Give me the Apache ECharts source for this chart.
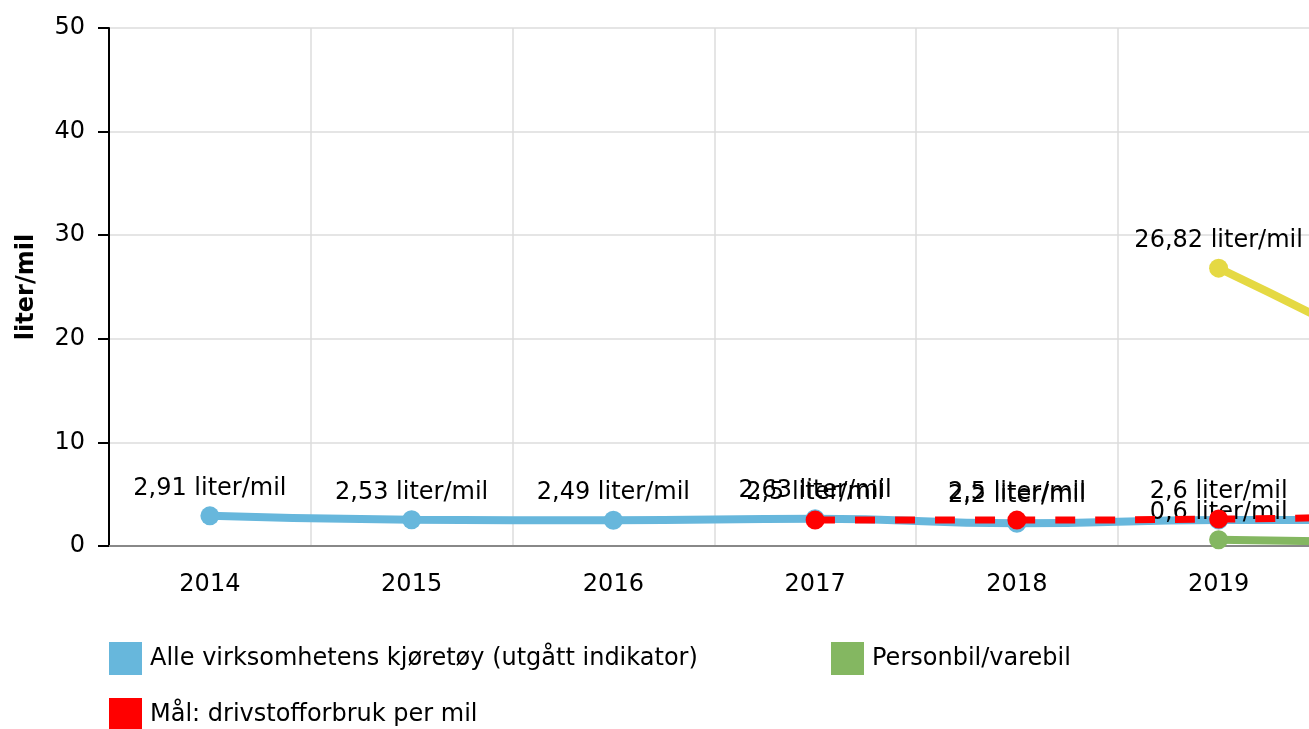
<!DOCTYPE html>
<html>
<head>
<meta charset="utf-8">
<script src="https://cdn.jsdelivr.net/npm/echarts@6/dist/echarts.min.js"></script>
<style>
html,body{margin:0;padding:0;background:#fff;overflow:hidden;}
#wrap{width:1309px;height:729px;overflow:hidden;position:relative;}
#c{width:2000px;height:729px;position:absolute;left:0;top:0;}
</style>
</head>
<body>
<div id="wrap"><div id="c"></div></div>
<script>
var categories = ['2014','2015','2016','2017','2018','2019','2020','2021'];
var seriesNames = ['Alle virksomhetens kjøretøy (utgått indikator)','Personbil/varebil','Lastebil','Mål: drivstofforbruk per mil'];
var allVehicles = [2.91, 2.53, 2.49, 2.63, 2.2, 2.5, 2.5, 2.5];
var carVan = [null, null, null, null, null, 0.6, 0.4, 0.4];
var truck = [null, null, null, null, null, 26.82, 17, 6];
var target = [null, null, null, 2.5, 2.5, 2.6, 2.8, 2.8];
var hideLabelAll = [5];
var yTicks = {min: 0, max: 50, interval: 10};

var FONT = 'DejaVu Sans';
function fmt(v){ return String(v).replace('.', ',') + ' liter/mil'; }
function mk(arr, hide){
  return arr.map(function(v,i){
    if (v === null) return null;
    if (hide && hide.indexOf(i) >= 0) return {value: v, label: {show: false}};
    return v;
  });
}
var lbl = {show: true, position: 'top', distance: 6, color: '#000', fontSize: 24, fontFamily: FONT,
  formatter: function(p){ return fmt(p.value); }};

var chart = echarts.init(document.getElementById('c'));
chart.setOption({
  animation: false,
  textStyle: {fontFamily: FONT},
  grid: {left: 109, top: 28, height: 518, width: 1614},
  xAxis: {
    type: 'category', data: categories, boundaryGap: true,
    axisLine: {lineStyle: {color: '#888', width: 2}},
    axisTick: {alignWithLabel: true, length: 10, lineStyle: {color: '#999', width: 2}},
    axisLabel: {color: '#000', fontSize: 24, fontFamily: FONT, margin: 27},
    splitLine: {show: true, lineStyle: {color: '#ddd', width: 1.5}}
  },
  yAxis: {
    type: 'value', min: yTicks.min, max: yTicks.max, interval: yTicks.interval,
    name: 'liter/mil', nameLocation: 'middle', nameGap: 70, nameRotate: 90,
    nameTextStyle: {color: '#000', fontSize: 24, fontWeight: 'bold', fontFamily: FONT},
    axisLine: {show: true, lineStyle: {color: '#000', width: 2}},
    axisTick: {show: true, length: 11, lineStyle: {color: '#000', width: 2}},
    axisLabel: {color: '#000', fontSize: 24, fontFamily: FONT, margin: 24, padding: [4,0,0,0]},
    splitLine: {show: true, lineStyle: {color: '#ddd', width: 1.5}}
  },
  legend: [
    {data: [seriesNames[0]], left: 109, top: 642},
    {data: [seriesNames[1]], left: 831, top: 642},
    {data: [seriesNames[2]], left: 1553, top: 642},
    {data: [seriesNames[3]], left: 109, top: 698}
  ].map(function(l){
    l.icon = 'rect'; l.itemWidth = 33; l.itemHeight = 33; l.selectedMode = false; l.padding = 0;
    l.textStyle = {color: '#000', fontSize: 24, fontFamily: FONT, padding: [2,0,0,3]};
    return l;
  }),
  series: [
    {name: seriesNames[0], type: 'line', data: mk(allVehicles, hideLabelAll), smooth: true,
     symbol: 'circle', symbolSize: 19, itemStyle: {color: '#67b7dc'},
     lineStyle: {width: 8, color: '#67b7dc'}, label: lbl, z: 2},
    {name: seriesNames[1], type: 'line', data: mk(carVan), smooth: true,
     symbol: 'circle', symbolSize: 19, itemStyle: {color: '#84b761'},
     lineStyle: {width: 8, color: '#84b761'}, label: lbl, z: 3},
    {name: seriesNames[2], type: 'line', data: mk(truck), smooth: true,
     symbol: 'circle', symbolSize: 19, itemStyle: {color: '#e5d943'},
     lineStyle: {width: 8, color: '#e5d943'}, label: lbl, z: 3},
    {name: seriesNames[3], type: 'line', data: mk(target), smooth: true,
     symbol: 'circle', symbolSize: 19, itemStyle: {color: '#ff0000'},
     lineStyle: {width: 7, color: '#ff0000', type: [20, 20]}, label: lbl, z: 4}
  ]
});
</script>
</body>
</html>
